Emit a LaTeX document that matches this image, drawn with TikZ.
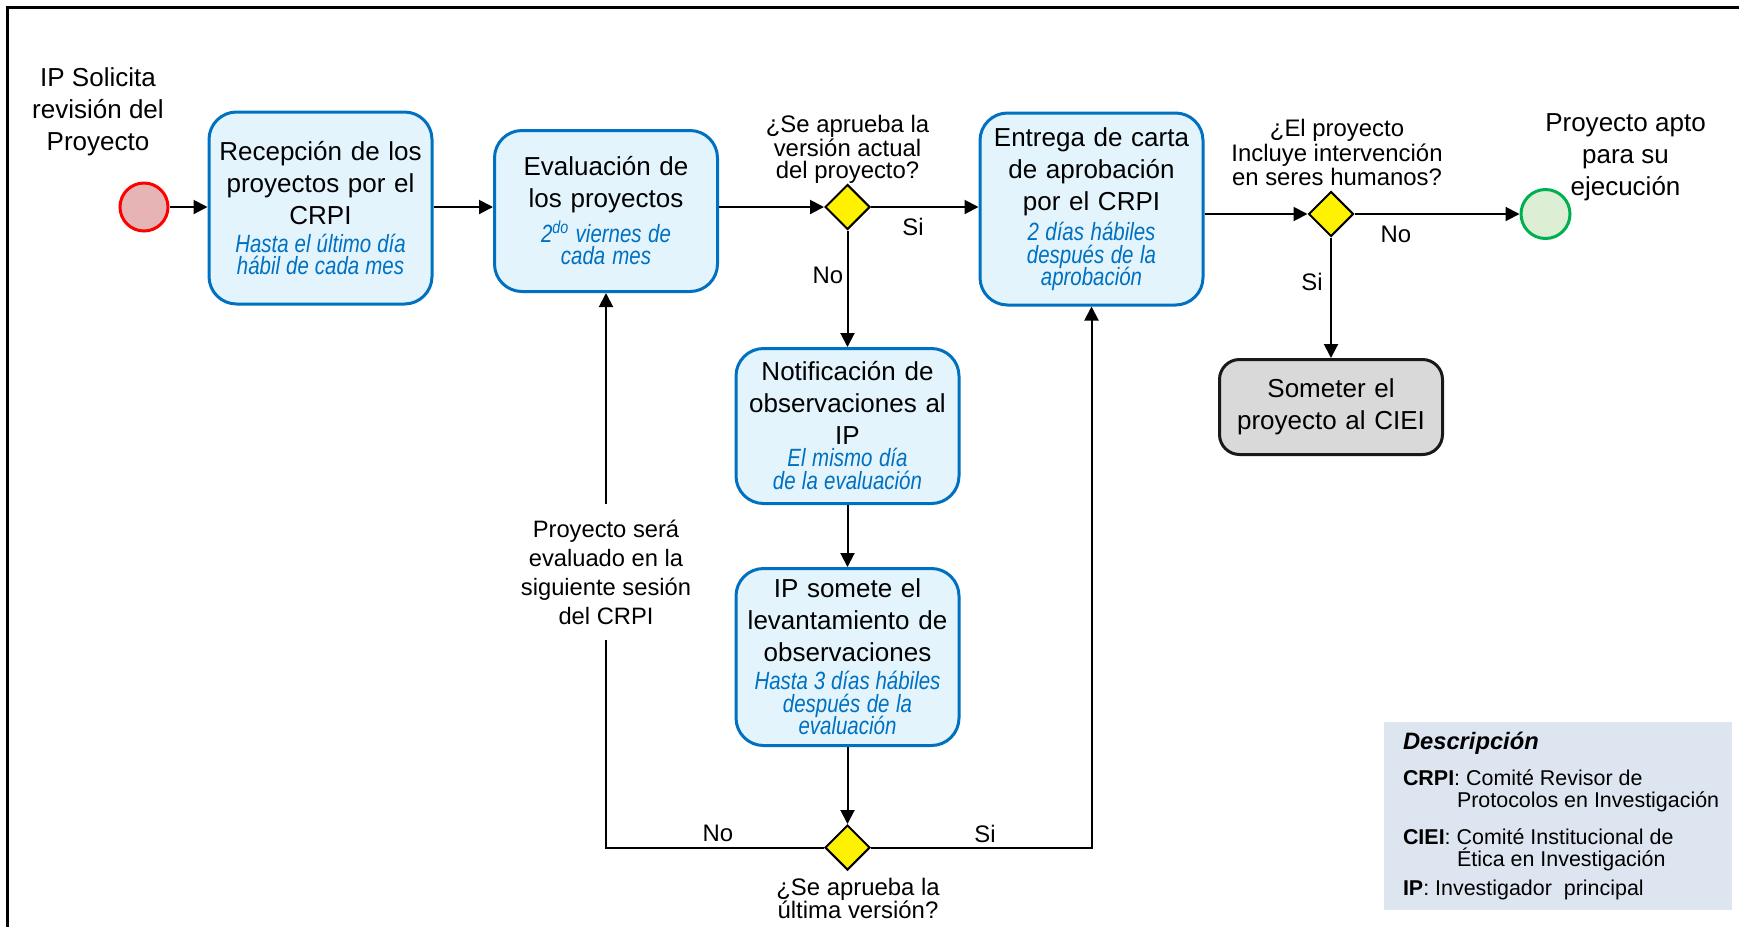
\documentclass[tikz,border=0pt]{standalone}
\usepackage{fontspec}
\setmainfont{Liberation Sans}
\newfontfamily\narrowit{Liberation Sans}[FakeStretch=0.82]
\usetikzlibrary{arrows.meta,shapes.geometric}
\definecolor{cajaborde}{HTML}{0070C0}
\definecolor{cajafondo}{HTML}{E3F4FC}
\definecolor{iniciofondo}{HTML}{E6B4B4}
\definecolor{finfondo}{HTML}{DCEED3}
\definecolor{finborde}{HTML}{00B050}
\definecolor{grisfondo}{HTML}{D9D9D9}
\definecolor{leyendafondo}{HTML}{DDE6F0}
\newcommand{\plazo}[1]{{\narrowit\itshape\fontsize{14.2}{12.5}\selectfont\spaceskip=0.22em plus 0.05em minus 0.05em\color{cajaborde}#1}}
\begin{document}
\begin{tikzpicture}[>={Triangle[length=0.28cm,width=0.28cm]}, line width=0.04cm,
		caja/.style={draw=cajaborde, fill=cajafondo, line width=0.06cm, rounded corners=0.55cm, minimum width=4.46cm, text width=4.3cm, align=center, inner sep=0pt, font=\fontsize{14.8}{18.2}\selectfont},
		rombo/.style={diamond, draw, fill=yellow, line width=0.04cm, minimum size=0.9cm, inner sep=0pt},
		preg/.style={align=center, font=\fontsize{13.6}{12.2}\selectfont},
		etiq/.style={font=\fontsize{13.6}{16}\selectfont},
		titulo/.style={align=center, font=\fontsize{14.8}{18.2}\selectfont}]
			\useasboundingbox (0,0) rectangle (34.78,-18.52);
			\draw[line width=0.045cm] (0.15,-19) |- (35.2,-0.15);
			% fila de arriba
			\node (IS) at (1.96,-2.24) [titulo] {IP Solicita\\revisión del\\Proyecto};
			\node (In) at (2.88,-4.14) [circle, draw=red, fill=iniciofondo, line width=0.06cm, minimum size=0.96cm] {};
			\node (Re) at (6.41,-4.16) [caja, minimum height=3.84cm] {Recepción de los\\proyectos por el\\CRPI\\[-2.3pt]\plazo{Hasta el último día}\\[-5.7pt]\plazo{hábil de cada mes}};
			\node (Ev) at (12.12,-4.22) [caja, minimum height=3.22cm] {Evaluación de\\los proyectos\\[1.7pt]\plazo{2\textsuperscript{do} viernes de}\\[-5.7pt]\plazo{cada mes}};
			\node (D1) at (16.95,-4.14) [rombo] {};
			\node (P1) at (16.95,-2.98) [preg] {¿Se aprueba la\\versión actual\\del proyecto?};
			\node (En) at (21.83,-4.18) [caja, minimum height=3.84cm] {Entrega de carta\\de aprobación\\por el CRPI\\[-1.1pt]\plazo{2 días hábiles}\\[-5.1pt]\plazo{después de la}\\[-5.5pt]\plazo{aprobación}};
			\node (D2) at (26.62,-4.28) [rombo] {};
			\node (P2) at (26.74,-3.05) [preg] {¿El proyecto\\Incluye intervención\\en seres humanos?};
			\node (Fi) at (30.91,-4.28) [circle, draw=finborde, fill=finfondo, line width=0.06cm, minimum size=0.98cm] {};
			\node (PA) at (32.51,-3.14) [titulo] {Proyecto apto\\para su\\ejecución};
			\node (So) at (26.62,-8.14) [caja, draw=black!90, fill=grisfondo, rounded corners=0.4cm, minimum height=1.9cm] {Someter el\\proyecto al CIEI};
			% columna del medio
			\node (Nt) at (16.95,-8.52) [caja, minimum height=3.1cm] {Notificación de\\observaciones al\\IP\\[-5.7pt]\plazo{El mismo día}\\[-5.1pt]\plazo{de la evaluación}};
			\node (Lv) at (16.95,-13.14) [caja, minimum height=3.54cm] {IP somete el\\levantamiento de\\observaciones\\[-2.3pt]\plazo{Hasta 3 días hábiles}\\[-5.1pt]\plazo{después de la}\\[-5.8pt]\plazo{evaluación}};
			\node (D3) at (16.95,-16.95) [rombo] {};
			\node (P3) at (17.16,-17.97) [preg, font=\fontsize{13.6}{13}\selectfont] {¿Se aprueba la\\última versión?};
			\node (Ps) at (12.12,-11.44) [align=center, font=\fontsize{13.5}{16.5}\selectfont, inner sep=0.3cm] {Proyecto será\\evaluado en la\\siguiente sesión\\del CRPI};
			% etiquetas Si / No
			\node (s1) at (18.26,-4.54) [etiq] {Si};
			\node (n1) at (16.56,-5.5) [etiq] {No};
			\node (n2) at (27.92,-4.68) [etiq] {No};
			\node (s2) at (26.24,-5.64) [etiq] {Si};
			\node (n3) at (14.36,-16.66) [etiq] {No};
			\node (s3) at (19.7,-16.68) [etiq] {Si};
			% leyenda
			\node (Lb) at (31.16,-16.32) [fill=leyendafondo, minimum width=6.96cm, minimum height=3.76cm, inner sep=0pt] {};
			\node (Ds) at ([xshift=0.38cm]Lb.west) [anchor=west, align=left, inner sep=0pt, font=\fontsize{12.2}{12.5}\selectfont] {{\fontsize{13.5}{14}\selectfont\bfseries\itshape Descripción}\\[8pt]\textbf{CRPI}: Comité Revisor de\\\hspace*{1.08cm}Protocolos en Investigación\\[8.5pt]\textbf{CIEI}: Comité Institucional de\\\hspace*{1.08cm}Ética en Investigación\\[4pt]\textbf{IP}: Investigador\ \ principal};
			% flechas
			\draw[->] (In) -- (In -| Re.west);
			\draw[->] (Re.east |- In) -- (In -| Ev.west);
			\draw[->] (Ev.east |- D1) -- (D1);
			\draw[->] (D1) -- (D1 -| En.west);
			\draw[->] (D1) -- (Nt);
			\draw[->] (Nt) -- (Lv);
			\draw[->] (Lv) -- (D3);
			\draw (D3) -| (Ps);
			\draw[->] (Ps) -- (Ev);
			\draw[->] (D3) -| (En);
			\draw[->] (En.east |- D2) -- (D2);
			\draw[->] (D2) -- (Fi);
			\draw[->] (D2) -- (So);
		\end{tikzpicture}
\end{document}
